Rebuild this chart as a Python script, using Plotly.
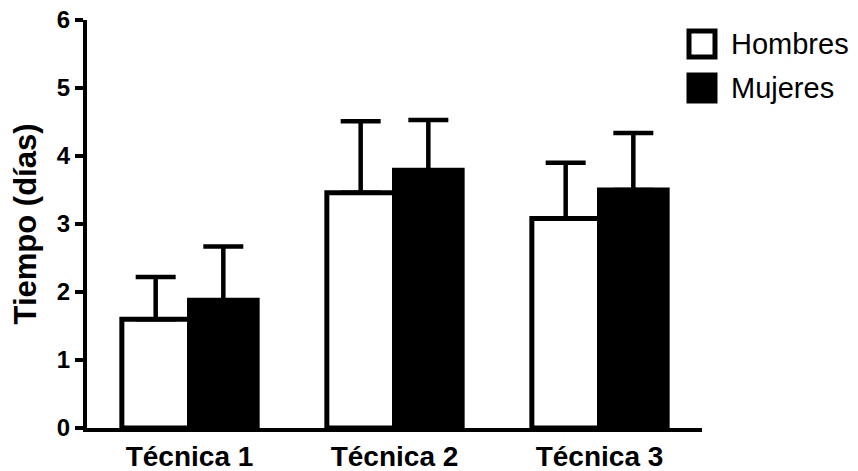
import plotly.graph_objects as go

categories = ["Técnica 1", "Técnica 2", "Técnica 3"]
hombres = [1.60, 3.46, 3.08]
hombres_err = [0.62, 1.05, 0.82]
mujeres = [1.88, 3.79, 3.50]
mujeres_err = [0.79, 0.74, 0.84]
series_names = ["Hombres", "Mujeres"]
yticks = [0, 1, 2, 3, 4, 5, 6]

FONT = "Arial, 'Liberation Sans', sans-serif"

# plot area in pixels
PL, PR, PT, PB = 87, 702, 20, 428


def px_x(p):
    return (p - PL) / (PR - PL)


def px_y(p):
    return (PB - p) / (PB - PT)


fig = go.Figure()
fig.add_trace(go.Bar(
    x=categories, y=hombres, name=series_names[0],
    marker=dict(color="white", line=dict(color="black", width=5)),
    error_y=dict(type="data", array=hombres_err, arrayminus=[0]*3, symmetric=False,
                 color="black", thickness=4.5, width=20),
    showlegend=False,
))
fig.add_trace(go.Bar(
    x=categories, y=mujeres, name=series_names[1],
    marker=dict(color="black", line=dict(color="black", width=5)),
    error_y=dict(type="data", array=mujeres_err, arrayminus=[0]*3, symmetric=False,
                 color="black", thickness=4.5, width=20),
    showlegend=False,
))

fig.update_layout(
    width=858, height=471,
    margin=dict(l=PL, r=858 - PR, t=PT, b=471 - PB, autoexpand=False),
    paper_bgcolor="white", plot_bgcolor="white",
    barmode="group", bargap=0.34, bargroupgap=0,
    font=dict(family=FONT, color="black"),
    xaxis=dict(
        range=[-0.5, 2.5], showline=True, linecolor="black", linewidth=4,
        ticks="", showgrid=False, zeroline=False,
        tickfont=dict(family=FONT, size=28, color="black", weight="bold"),
    ),
    yaxis=dict(
        range=[0, 6], tickvals=yticks, showline=True, linecolor="black", linewidth=4,
        ticks="outside", ticklen=8, tickwidth=4, tickcolor="black",
        showgrid=False, zeroline=False,
        tickfont=dict(family=FONT, size=24, color="black", weight="bold"),
        title=dict(text="Tiempo (días)", standoff=12,
                   font=dict(family=FONT, size=31, color="black", weight="bold")),
    ),
)

# custom legend
legend_items = [(series_names[0], "white", 44), (series_names[1], "black", 88)]
for name, fill, yc in legend_items:
    fig.add_shape(type="rect", xref="paper", yref="paper",
                  x0=px_x(689), x1=px_x(715),
                  y0=px_y(yc + 13), y1=px_y(yc - 13),
                  fillcolor=fill, line=dict(color="black", width=5))
    fig.add_annotation(xref="paper", yref="paper",
                       x=px_x(729), y=px_y(yc),
                       xanchor="left", yanchor="middle", showarrow=False,
                       text=name, font=dict(family=FONT, size=29, color="black"))

fig.write_html("out.html", config={"displayModeBar": False},
               post_script="document.body.style.margin='0';")
